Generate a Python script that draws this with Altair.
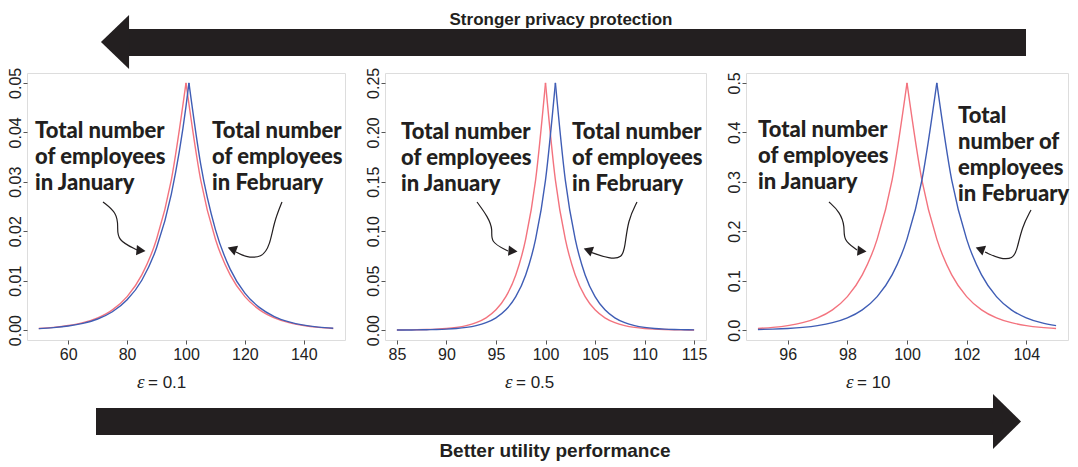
import altair as alt
import pandas as pd

# ---------------- data ----------------
# panel 1 (epsilon = 0.1)
p1_x_jan = [50, 55, 60, 65, 70, 75, 80, 85, 90, 95, 100, 105, 110, 115, 120, 125, 130, 135, 140, 145, 150]
p1_y_jan = [0.00034, 0.00056, 0.00092, 0.00151, 0.00249, 0.00410, 0.00677, 0.01116, 0.01839, 0.03033, 0.05,
            0.03033, 0.01839, 0.01116, 0.00677, 0.00410, 0.00249, 0.00151, 0.00092, 0.00056, 0.00034]
p1_x_feb = [50, 55, 60, 65, 70, 75, 80, 85, 90, 95, 100, 101, 105, 110, 115, 120, 125, 130, 135, 140, 145, 150]
p1_y_feb = [0.00030, 0.00050, 0.00083, 0.00137, 0.00225, 0.00371, 0.00612, 0.01009, 0.01665, 0.02744, 0.04524, 0.05,
            0.03352, 0.02033, 0.01233, 0.00748, 0.00454, 0.00275, 0.00167, 0.00101, 0.00061, 0.00037]

# panel 2 (epsilon = 0.5)
p2_x = list(range(85, 116))
p2_y_jan = [0.00014, 0.00023, 0.00038, 0.00062, 0.00102, 0.00168, 0.00278, 0.00458, 0.00755, 0.01245, 0.02052,
            0.03383, 0.05578, 0.09197, 0.15163, 0.25, 0.15163, 0.09197, 0.05578, 0.03383, 0.02052, 0.01245,
            0.00755, 0.00458, 0.00278, 0.00168, 0.00102, 0.00062, 0.00038, 0.00023, 0.00014]
p2_y_feb = [0.00008, 0.00014, 0.00023, 0.00038, 0.00062, 0.00102, 0.00168, 0.00278, 0.00458, 0.00755, 0.01245,
            0.02052, 0.03383, 0.05578, 0.09197, 0.15163, 0.25, 0.15163, 0.09197, 0.05578, 0.03383, 0.02052,
            0.01245, 0.00755, 0.00458, 0.00278, 0.00168, 0.00102, 0.00062, 0.00038, 0.00023]

# panel 3 (epsilon = 10)
p3_x = [95, 95.5, 96, 96.5, 97, 97.5, 98, 98.5, 99, 99.5, 100, 100.5, 101, 101.5, 102, 102.5, 103, 103.5, 104, 104.5, 105]
p3_y_jan = [0.00337, 0.00555, 0.00916, 0.01510, 0.02489, 0.04104, 0.06767, 0.11157, 0.18394, 0.30327, 0.5,
            0.30327, 0.18394, 0.11157, 0.06767, 0.04104, 0.02489, 0.01510, 0.00916, 0.00555, 0.00337]
p3_y_feb = [0.00124, 0.00204, 0.00337, 0.00555, 0.00916, 0.01510, 0.02489, 0.04104, 0.06767, 0.11157, 0.18394,
            0.30327, 0.5, 0.30327, 0.18394, 0.11157, 0.06767, 0.04104, 0.02489, 0.01510, 0.00916]

series_names = ["January", "February"]
series_colors = ["#f3737e", "#3f5db5"]
eps_values = ["= 0.1", "= 0.5", "= 10"]
top_label = "Stronger privacy protection"
bottom_label = "Better utility performance"
jan_text = ["Total number", "of employees", "in January"]
feb_text = ["Total number", "of employees", "in February"]
feb_text_4 = ["Total", "number of", "employees", "in February"]

INK = "#231f20"
AXIS_FONT = "Liberation Sans"
ANN_FONT = "Lato"
H = 267


def branches(xs, ys, name, peak):
    rows = []
    for xv, yv in zip(xs, ys):
        if xv <= peak:
            rows.append({"x": xv, "y": yv, "series": name, "branch": name + "-L"})
        if xv >= peak:
            rows.append({"x": xv, "y": yv, "series": name, "branch": name + "-R"})
    return rows


def one():
    return pd.DataFrame({"k": [0]})


def text_layer(lines, x, y, **kw):
    props = dict(font=ANN_FONT, fontWeight=900, fontSize=22, lineHeight=26,
                 align="left", baseline="alphabetic", color=INK)
    props.update(kw)
    return alt.Chart(one()).mark_text(text=lines, **props).encode(x=alt.value(x), y=alt.value(y))


def panel(w, xj, yj, xf, yf, xdom, xticks, ydom, yticks, yfmt, texts, arrows, heads, eps_x, eps_val, extra=()):
    df = pd.DataFrame(branches(xj, yj, "January", 100) + branches(xf, yf, "February", 101))
    lines = alt.Chart(df).mark_line(strokeWidth=1.4, interpolate="monotone").encode(
        x=alt.X("x:Q", scale=alt.Scale(domain=xdom, nice=False, zero=False),
                axis=alt.Axis(values=xticks, title=None, grid=False, domain=False, tickSize=4,
                              tickColor="#555", labelPadding=2, labelFontSize=16, labelFont=AXIS_FONT,
                              labelColor="#222", labelFlush=False, labelOverlap=False)),
        y=alt.Y("y:Q", scale=alt.Scale(domain=ydom, nice=False, zero=False),
                axis=alt.Axis(values=yticks, format=yfmt, title=None, grid=False, domain=False, tickSize=4,
                              tickColor="#555", labelPadding=3, labelFontSize=16, labelFont=AXIS_FONT,
                              labelColor="#222", labelAngle=270, labelAlign="center",
                              labelBaseline="alphabetic", labelFlush=False, labelOverlap=False)),
        color=alt.Color("series:N", scale=alt.Scale(domain=series_names, range=series_colors), legend=None),
        detail="branch:N",
    )
    layers = [lines]
    for (lns, tx, ty) in texts:
        layers.append(text_layer(lns, tx, ty))
    arr_rows = []
    for aid, pts in enumerate(arrows):
        for i, (px, py) in enumerate(pts):
            arr_rows.append({"px": px, "py": py, "i": i, "id": aid})
    layers.append(alt.Chart(pd.DataFrame(arr_rows)).mark_line(
        interpolate="basis", color=INK, strokeWidth=1.2).encode(
        x=alt.X("px:Q", scale=None), y=alt.Y("py:Q", scale=None),
        detail="id:N", order="i:Q"))
    layers.append(alt.Chart(pd.DataFrame(heads, columns=["px", "py", "ang"])).mark_point(
        shape="triangle-right", filled=True, size=110, color=INK, opacity=1).encode(
        x=alt.X("px:Q", scale=None), y=alt.Y("py:Q", scale=None), angle=alt.Angle("ang:Q", scale=None)))
    layers.append(text_layer("ε", eps_x, 315, font="Liberation Serif", fontStyle="italic",
                             fontWeight="normal", fontSize=19, color="#222"))
    layers.append(text_layer(eps_val, eps_x + 11, 315, font=AXIS_FONT, fontWeight="normal",
                             fontSize=17, color="#222"))
    layers.extend(extra)
    return alt.layer(*layers).properties(width=w, height=H)


# big arrows and their labels (drawn relative to panel 1)
top_shaft = alt.Chart(one()).mark_rect(color=INK).encode(
    x=alt.value(102), x2=alt.value(999), y=alt.value(-44), y2=alt.value(-17))
top_head = alt.Chart(one()).mark_point(
    shape="M 0.52 -1 L -0.52 0 L 0.52 1 Z", filled=True, size=2916, color=INK, opacity=1, strokeWidth=0
).encode(x=alt.value(88), y=alt.value(-31))
top_txt = text_layer(top_label, 534, -48, font=AXIS_FONT, fontWeight="bold", fontSize=17, align="center")
bot_shaft = alt.Chart(one()).mark_rect(color=INK).encode(
    x=alt.value(69), x2=alt.value(967), y=alt.value(335), y2=alt.value(362))
bot_head = alt.Chart(one()).mark_point(
    shape="M -0.51 -1 L 0.51 0 L -0.51 1 Z", filled=True, size=3025, color=INK, opacity=1, strokeWidth=0
).encode(x=alt.value(980), y=alt.value(348.5))
bot_txt = text_layer(bottom_label, 528, 384, font=AXIS_FONT, fontWeight="bold", fontSize=19, align="center")

p1 = panel(
    318, p1_x_jan, p1_y_jan, p1_x_feb, p1_y_feb,
    [46, 154], [60, 80, 100, 120, 140], [-0.002, 0.052], [0, 0.01, 0.02, 0.03, 0.04, 0.05], ".2f",
    [(jan_text, 8, 65), (feb_text, 185, 65)],
    [[(76, 129), (90, 140), (91, 154), (90, 167), (110, 177)],
     [(255, 129), (247, 149), (243, 172), (235, 185), (218, 184), (209, 179)]],
    [(114, 177.5, 5), (205, 176, 200)],
    110, eps_values[0],
    extra=[top_shaft, top_head, top_txt, bot_shaft, bot_head, bot_txt],
)
p2 = panel(
    321, p2_x, p2_y_jan, p2_x, p2_y_feb,
    [83.8, 116.2], [85, 90, 95, 100, 105, 110, 115], [-0.01, 0.26], [0, 0.05, 0.10, 0.15, 0.20, 0.25], ".2f",
    [(jan_text, 16, 66), (feb_text, 187, 66)],
    [[(92, 129), (103, 144), (108, 157), (105, 169), (123, 178)],
     [(252, 129), (243, 147), (240, 174), (237, 185), (225, 186), (205, 179)]],
    [(128, 178, 5), (203, 177, 200)],
    120, eps_values[1],
)
p3 = panel(
    322, p3_x, p3_y_jan, p3_x, p3_y_feb,
    [94.6, 105.4], [96, 98, 100, 102, 104], [-0.02, 0.52], [0, 0.1, 0.2, 0.3, 0.4, 0.5], ".1f",
    [(jan_text, 12, 64), (feb_text_4, 212, 50)],
    [[(83, 129), (94, 139), (99, 154), (97, 167), (111, 177)],
     [(285, 137), (276, 154), (271, 177), (267, 186), (254, 186), (239, 179)]],
    [(116, 178, 5), (234, 176, 200)],
    100, eps_values[2],
)

chart = alt.hconcat(p1, p2, p3, spacing=40, bounds="flush").properties(
    autosize=alt.AutoSizeParams(type="none"),
    padding={"left": 19, "top": 65, "right": 1043, "bottom": 386},
).configure_view(stroke="#8c8c8c", strokeWidth=1).configure(background="white")

chart.save("out.html", embed_options={"renderer": "svg", "actions": False})
